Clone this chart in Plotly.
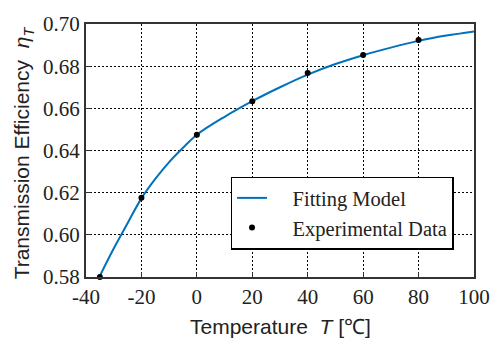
import plotly.graph_objects as go

exp_T = [-35, -20, 0, 20, 40, 60, 80]
exp_eta = [0.580, 0.6176, 0.6475, 0.6634, 0.6768, 0.6853, 0.6924]

# Fitting model curve
fit_T = [-35, -30, -25, -20, -15, -10, -5, 0, 10, 20, 30, 40, 50, 60, 70, 80, 90, 100]
fit_eta = [0.5805, 0.5935, 0.6055, 0.6173, 0.6265, 0.6345, 0.6413, 0.6475,
           0.6560, 0.6634, 0.6700, 0.6760, 0.6810, 0.6852, 0.6888, 0.6920, 0.6945, 0.6965]

x_ticks = [-40, -20, 0, 20, 40, 60, 80, 100]
y_ticks = [0.58, 0.60, 0.62, 0.64, 0.66, 0.68, 0.70]

serif = "Liberation Serif"
sans = "Liberation Sans"
frame = "#333333"
pad = "\u00a0" * 4

fig = go.Figure()
fig.add_trace(go.Scatter(x=fit_T, y=fit_eta, mode="lines", name=pad + "Fitting Model",
                         line=dict(color="#0072BD", width=2, shape="spline"),
                         cliponaxis=False))
fig.add_trace(go.Scatter(x=exp_T, y=exp_eta, mode="markers", name=pad + "Experimental Data",
                         marker=dict(color="black", size=6), cliponaxis=False))

axis_common = dict(showline=True, mirror=True, linecolor=frame, linewidth=2,
                   ticks="inside", ticklen=5, tickcolor=frame, tickwidth=1,
                   showgrid=True, gridcolor="black", gridwidth=1, griddash="2px,2px",
                   zeroline=False)

fig.update_xaxes(range=[-40, 100], tickvals=x_ticks, ticktext=[str(v) for v in x_ticks],
                 tickfont=dict(family=serif, size=21, color="#222"), **axis_common)
fig.update_yaxes(range=[0.58, 0.70], tickvals=y_ticks,
                 ticktext=[f"{v:.2f}" for v in y_ticks],
                 tickfont=dict(family=serif, size=21, color="#222"), **axis_common)

fig.update_layout(
    width=502, height=345,
    margin=dict(l=86, r=16, t=15, b=68),
    paper_bgcolor="white", plot_bgcolor="white",
    font=dict(family=serif, size=20, color="#222"),
    showlegend=True,
    legend=dict(x=(235 - 86) / 400, y=(277 - 173) / 262, xanchor="left", yanchor="top",
                bgcolor="white", bordercolor="black", borderwidth=1.5,
                font=dict(family=serif, size=20.5, color="#222"),
                tracegroupgap=0, itemwidth=30),
    annotations=[
        dict(text="Temperature\u00a0\u00a0<i>T</i>\u00a0[℃]", xref="paper", yref="paper",
             x=0.5, y=(277 - 328) / 262, xanchor="center", yanchor="middle",
             showarrow=False, font=dict(family=sans, size=21, color="#222")),
        dict(text="Transmission Efficiency\u00a0\u00a0<i>η<sub>T</sub></i>",
             xref="paper", yref="paper", textangle=-90,
             x=(22 - 86) / 400, y=(277 - 148) / 262, xanchor="center", yanchor="middle",
             showarrow=False, font=dict(family=sans, size=21, color="#222")),
    ],
)

fig.write_html("out.html")
